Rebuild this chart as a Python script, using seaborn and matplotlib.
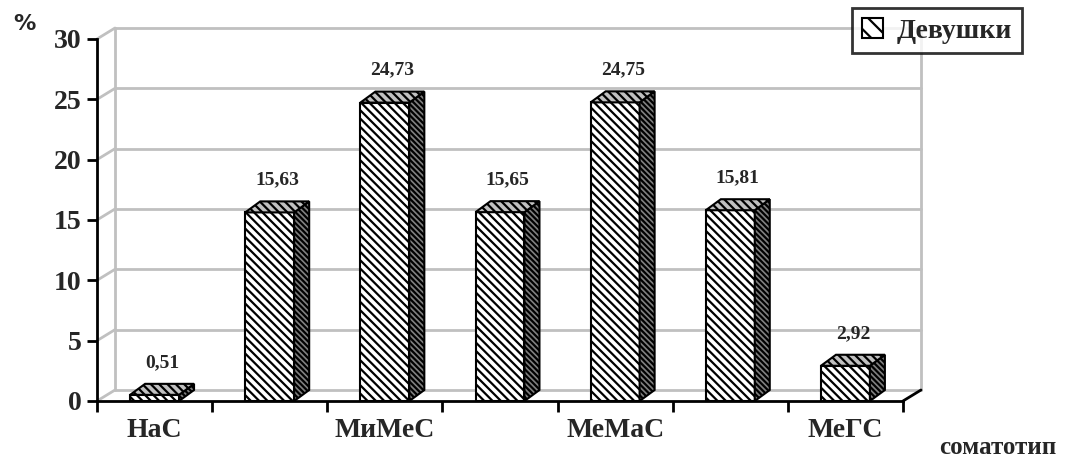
import numpy as np
import matplotlib
matplotlib.use("Agg")
import matplotlib.pyplot as plt
from matplotlib.patches import Polygon, Patch
from matplotlib.lines import Line2D
from matplotlib.font_manager import FontProperties
import seaborn as sns

# Somatotype shares (%) among girls, Dorokhov classification
categories = ["НаС", "МиС", "МиМеС", "МеС", "МеМаС", "МаС", "МеГС"]
values = [0.51, 15.63, 24.73, 15.65, 24.75, 15.81, 2.92]
shown_labels = ["НаС", "", "МиМеС", "", "МеМаС", "", "МеГС"]
yticks = [0, 5, 10, 15, 20, 25, 30]
series_name = "Девушки"

sns.set_theme(style="white")
plt.rcParams["font.family"] = ["Liberation Serif", "DejaVu Serif"]
plt.rcParams["font.weight"] = "bold"
plt.rcParams["font.style"] = "normal"
plt.rcParams["hatch.linewidth"] = 1.6
plt.rcParams["hatch.color"] = "black"


def serif(size):
    return FontProperties(family=["Liberation Serif", "DejaVu Serif"],
                          weight="bold", style="normal", size=size)


W, H, DPI = 1082, 459, 100
fig = plt.figure(figsize=(W / DPI, H / DPI), dpi=DPI)
fig.patch.set_facecolor("white")
ax = fig.add_axes([97 / W, (H - 401) / H, (903 - 97) / W, (401 - 39) / H])
ax.set_facecolor("none")

sns.barplot(x=categories, y=values, ax=ax, width=0.425, color="white",
            edgecolor="black", linewidth=1.5, hatch="\\\\\\\\", saturation=1,
            zorder=3)

ax.set_xlim(-0.5, len(categories) - 0.5)
ax.set_ylim(0, 30)

# pixel -> data conversion for the 3D depth offsets
bbox = ax.get_window_extent()
px_x = (len(categories)) / bbox.width
px_y = 30.0 / bbox.height
wall_dx, wall_dy = 18 * px_x, 11 * px_y
bar_dx, bar_dy = 15 * px_x, 11 * px_y

grid_col = "#c0c0c0"
x0, x1 = -0.5, len(categories) - 0.5
# back wall gridlines and side-wall connectors
for t in yticks:
    ax.add_line(Line2D([x0 + wall_dx, x1 + wall_dx], [t + wall_dy, t + wall_dy],
                       color=grid_col, lw=2, zorder=0, clip_on=False))
    ax.add_line(Line2D([x0, x0 + wall_dx], [t, t + wall_dy],
                       color=grid_col, lw=2, zorder=0, clip_on=False))
for xv in (x0 + wall_dx, x1 + wall_dx):
    ax.add_line(Line2D([xv, xv], [wall_dy, 30 + wall_dy],
                       color=grid_col, lw=2, zorder=0, clip_on=False))
# right floor edge
ax.add_line(Line2D([x1, x1 + wall_dx], [0, wall_dy], color="black", lw=2,
                   zorder=4, clip_on=False))

# top and side faces of each bar
for p in list(ax.patches):
    bx, by = p.get_x(), p.get_y()
    bw, bh = p.get_width(), p.get_height()
    top = Polygon([(bx, by + bh), (bx + bw, by + bh),
                   (bx + bw + bar_dx, by + bh + bar_dy), (bx + bar_dx, by + bh + bar_dy)],
                  closed=True, facecolor="#c0c0c0", edgecolor="black", lw=1.5,
                  hatch="\\\\\\\\", zorder=3, clip_on=False)
    side = Polygon([(bx + bw, by), (bx + bw + bar_dx, by + bar_dy),
                    (bx + bw + bar_dx, by + bh + bar_dy), (bx + bw, by + bh)],
                   closed=True, facecolor="#808080", edgecolor="black", lw=1.5,
                   hatch="\\\\\\\\\\\\", zorder=3, clip_on=False)
    ax.add_patch(side)
    ax.add_patch(top)

# value labels
for p, v in zip(list(ax.patches)[:len(values)], values):
    cx = p.get_x() + p.get_width() / 2 + bar_dx / 2
    ax.annotate(f"{v:.2f}".replace(".", ","), (cx, v), xytext=(0, 24),
                textcoords="offset pixels", ha="center", va="bottom",
                fontproperties=serif(14), clip_on=False)

# axes styling
for s in ("top", "right"):
    ax.spines[s].set_visible(False)
for s in ("left", "bottom"):
    ax.spines[s].set_color("black")
    ax.spines[s].set_linewidth(2)
ax.set_yticks(yticks)
ax.set_yticklabels([str(t) for t in yticks], fontproperties=serif(20))
ax.tick_params(axis="y", length=7, width=2, color="black", pad=4, left=True)
ax.set_xticks(np.arange(-0.5, len(categories) + 0.5, 1.0))
ax.set_xticklabels([])
ax.set_xticks(np.arange(len(categories)), minor=True)
ax.set_xticklabels(shown_labels, minor=True, fontproperties=serif(20))
ax.tick_params(axis="x", which="major", length=8, width=2, color="black",
               bottom=True, direction="out")
ax.tick_params(axis="x", which="minor", length=0, pad=12, bottom=True)
ax.set_xlabel("")
ax.set_ylabel("")

fig.text(13 / W, 1 - 24 / H, "%", family="DejaVu Sans", fontweight="bold",
         fontsize=16, va="center", ha="left")
fig.text(998 / W, 1 - 447 / H, "соматотип", fontproperties=serif(18),
         ha="center", va="center")

handle = Patch(facecolor="white", edgecolor="black", hatch="\\\\", lw=1.5)
leg = ax.legend([handle], [series_name], loc="upper left",
                bbox_to_anchor=(852 / W, 1 - 8 / H), bbox_transform=fig.transFigure,
                frameon=True, fancybox=False, handlelength=0.75, handleheight=0.75,
                handletextpad=0.5, borderpad=0.35, borderaxespad=0,
                prop=serif(20))
leg.get_frame().set_edgecolor("black")
leg.get_frame().set_linewidth(2)

fig.savefig("out.png", dpi=DPI, facecolor="white")
